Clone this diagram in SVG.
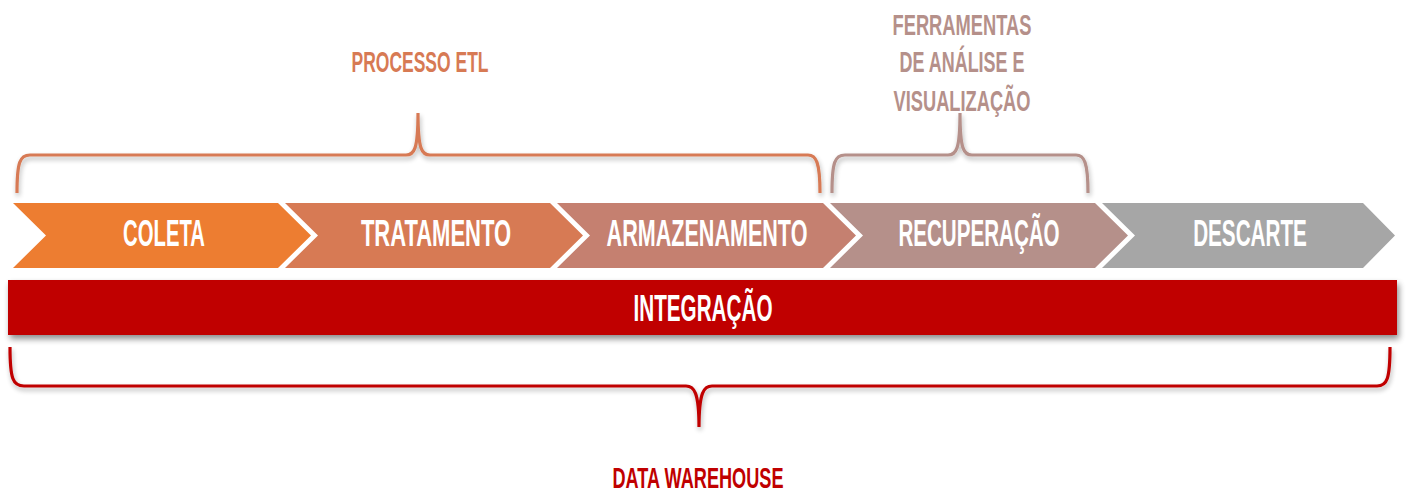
<svg xmlns="http://www.w3.org/2000/svg" width="1409" height="495" viewBox="0 0 1409 495">
<style>
text{font-family:"Liberation Sans",Arial,sans-serif;font-weight:bold;}
.ct{fill:#ffffff;font-size:37px;text-anchor:middle;}
.lbl{font-size:30px;text-anchor:middle;}
.brace{fill:none;stroke-width:3.2;stroke-linecap:butt;filter:url(#sh);}
</style>
<defs>
<filter id="sh" x="-5%" y="-20%" width="110%" height="160%">
<feGaussianBlur in="SourceAlpha" stdDeviation="2.5"/>
<feOffset dx="1" dy="3" result="b"/>
<feComponentTransfer><feFuncA type="linear" slope="0.3"/></feComponentTransfer>
<feMerge><feMergeNode/><feMergeNode in="SourceGraphic"/></feMerge>
</filter>
<filter id="bsh" x="-2%" y="-20%" width="104%" height="160%">
<feGaussianBlur in="SourceAlpha" stdDeviation="3"/>
<feOffset dx="2" dy="4" result="b"/>
<feComponentTransfer><feFuncA type="linear" slope="0.45"/></feComponentTransfer>
<feMerge><feMergeNode/><feMergeNode in="SourceGraphic"/></feMerge>
</filter>
</defs>

<g id="coleta">
<polygon points="13,203 278,203 311,235.5 278,268 13,268 46,235.5" fill="#ED7D31"/>
<text class="ct" transform="translate(164,246) scale(0.65,1)" x="0" y="0" textLength="126" lengthAdjust="spacingAndGlyphs">COLETA</text>
</g>
<g id="tratamento">
<polygon points="285,203 550,203 583,235.5 550,268 285,268 318,235.5" fill="#D77A54"/>
<text class="ct" transform="translate(436,246) scale(0.65,1)" x="0" y="0" textLength="231" lengthAdjust="spacingAndGlyphs">TRATAMENTO</text>
</g>
<g id="armazenamento">
<polygon points="557,203 823,203 856,235.5 823,268 557,268 590,235.5" fill="#C58070"/>
<text class="ct" transform="translate(707,246) scale(0.65,1)" x="0" y="0" textLength="309" lengthAdjust="spacingAndGlyphs">ARMAZENAMENTO</text>
</g>
<g id="recuperacao">
<polygon points="830,203 1095,203 1128,235.5 1095,268 830,268 863,235.5" fill="#B5908A"/>
<text class="ct" transform="translate(979,246) scale(0.65,1)" x="0" y="0" textLength="248" lengthAdjust="spacingAndGlyphs">RECUPERAÇÃO</text>
</g>
<g id="descarte">
<polygon points="1102,203 1363,203 1395,235.5 1363,268 1102,268 1135,235.5" fill="#A6A6A6"/>
<text class="ct" transform="translate(1250,246) scale(0.65,1)" x="0" y="0" textLength="175" lengthAdjust="spacingAndGlyphs">DESCARTE</text>
</g>

<g id="integracao">
<rect x="8" y="280" width="1389" height="55" fill="#C00000" filter="url(#bsh)"/>
<text class="ct" transform="translate(703,321) scale(0.65,1)" x="0" y="0" font-size="36" textLength="214" lengthAdjust="spacingAndGlyphs">INTEGRAÇÃO</text>
</g>

<g id="connectors">
<path class="brace" stroke="#D77A54" d="M17,193 C17,162 20,155 30,155 L406,155 C414,155 418,150 418,113 C418,150 422,155 430,155 L808,155 C816,155 820,162 820,193"/>
<path class="brace" stroke="#B5908A" d="M832,193 C832,162 835,155 845,155 L948,155 C956,155 960,150 960,113 C960,150 964,155 972,155 L1076,155 C1084,155 1088,162 1088,193"/>
<path class="brace" stroke="#C00000" stroke-width="3.6" d="M10,347 C10,379 13,386 24,386 L686,386 C694,386 699,392 699,427 C699,392 704,386 712,386 L1377,386 C1387,386 1390,379 1390,347"/>
</g>

<g id="processo-etl">
<text class="lbl" x="420" y="72" fill="#D77A54" textLength="137" lengthAdjust="spacingAndGlyphs">PROCESSO ETL</text>
</g>
<g id="ferramentas">
<text class="lbl" x="962" y="35" fill="#B5908A" textLength="139" lengthAdjust="spacingAndGlyphs">FERRAMENTAS</text>
<text class="lbl" x="962" y="72" fill="#B5908A" textLength="125" lengthAdjust="spacingAndGlyphs">DE ANÁLISE E</text>
<text class="lbl" x="962" y="111" fill="#B5908A" textLength="137" lengthAdjust="spacingAndGlyphs">VISUALIZAÇÃO</text>
</g>
<g id="data-warehouse">
<text class="lbl" x="698" y="488" fill="#C00000" textLength="171" lengthAdjust="spacingAndGlyphs">DATA WAREHOUSE</text>
</g>
</svg>
